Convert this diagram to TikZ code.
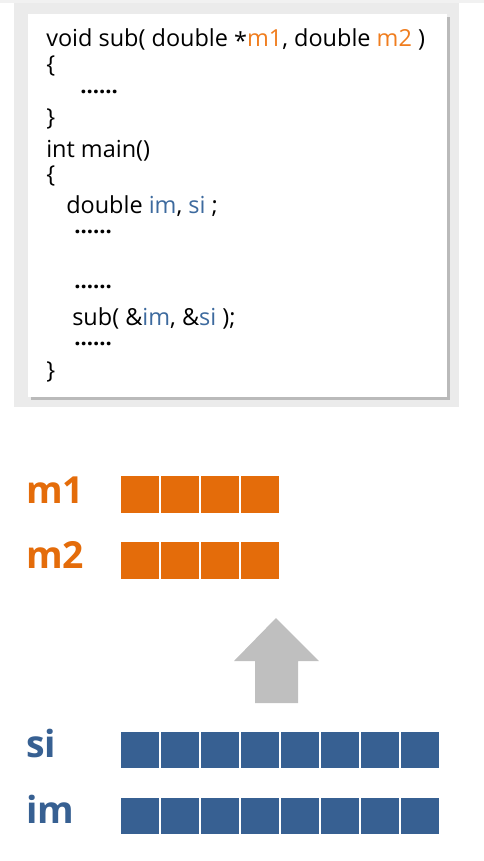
\documentclass[tikz,border=0pt]{standalone}
\usepackage{fontspec}
\setmainfont{Open Sans}
\usepackage{tikz}
\usetikzlibrary{shapes, arrows, positioning, shadows}

\definecolor{varorange}{HTML}{E46C0A}
\definecolor{codeorange}{HTML}{F07D1E}
\definecolor{varblue}{HTML}{376092}
\definecolor{codeblue}{HTML}{3D6A9E}
\definecolor{panelgray}{HTML}{EBEBEB}
\definecolor{arrowgray}{HTML}{BFBFBF}

\begin{document}
\begin{tikzpicture}[x=0.75pt, y=-0.75pt,
    code/.style={anchor=base west, inner sep=0pt, font=\fontsize{17.6}{21}\selectfont},
    dots/.style={anchor=base west, inner sep=0pt, text height=0.6ex, text depth=0pt, font=\fontsize{16.5}{20}\selectfont\bfseries},
    varlabel/.style={anchor=base west, inner sep=0pt, font=\fontsize{28}{32}\selectfont\bfseries},
    cell/.style={draw=white, line width=1.2pt, minimum width=30pt, minimum height=28.5pt, inner sep=0pt}]
\useasboundingbox (0,0) rectangle (484,861);

% code panel
\fill[panelgray!70] (0,0) rectangle (484,3);
\fill[panelgray] (14,3) rectangle (459,407);
\node[fill=white, minimum width=314.25pt, minimum height=287.25pt, inner sep=0pt,
      drop shadow={shadow xshift=2pt, shadow yshift=-2pt, opacity=0.45}] (panel) at (237.5,205.5) {};

\node[code] (l1) at (46,46) {void sub( double \raisebox{-0.3ex}{*}\textcolor{codeorange}{m1}, double \textcolor{codeorange}{m2} )};
\node[code] (l2) at (46,72) {\{};
\node[dots] (l3) at (80,93) {......};
\node[code] (l4) at (46,125) {\}};
\node[code] (l5) at (46,157) {int main()};
\node[code] (l6) at (46,182) {\{};
\node[code] (l7) at (66,213) {double \textcolor{codeblue}{im}, \textcolor{codeblue}{si} ;};
\node[dots] (l8) at (74,233) {......};
\node[dots] (l9) at (74,288) {......};
\node[code] (l10) at (72,325) {sub( \&\textcolor{codeblue}{im}, \&\textcolor{codeblue}{si} );};
\node[dots] (l11) at (74,345) {......};
\node[code] (l12) at (46,378) {\}};

% memory rows
\node[varlabel, text=varorange] (m1) at (26,503) {m1};
\node[varlabel, text=varorange] (m2) at (26,568) {m2};
\node[varlabel, text=varblue] (si) at (26,757) {si};
\node[varlabel, text=varblue] (im) at (26,823) {im};

\foreach \i in {0,...,3} {
    \node[cell, fill=varorange] (m1c\i) at (140+40*\i,494.5) {};
    \node[cell, fill=varorange] (m2c\i) at (140+40*\i,560.5) {};
}
\foreach \i in {0,...,7} {
    \node[cell, fill=varblue] (sic\i) at (140+40*\i,750) {};
    \node[cell, fill=varblue] (imc\i) at (140+40*\i,816) {};
}

% copy direction
\fill[arrowgray] (255,703) -- (255,661) -- (234,661) -- (276,618) -- (319,661) -- (298,661) -- (298,703) -- cycle;
\end{tikzpicture}
\end{document}
